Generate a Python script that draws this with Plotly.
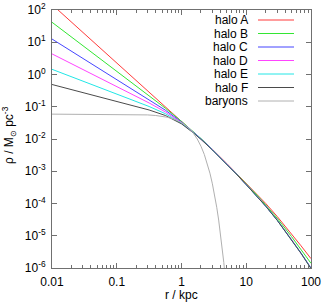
import plotly.graph_objects as go

# ---- data ----
r_halo = [0.01, 0.0316, 0.1, 0.178, 0.316, 0.562, 1, 1.5, 2, 3, 5, 7, 10, 15, 20, 30, 50, 70, 100]
rho_A = [148, 18.6, 2.34, 0.832, 0.295, 0.1047, 3.715e-2, 1.778e-2, 1.047e-2, 4.786e-3, 1.738e-3, 8.81e-4,
         4.266e-4, 1.862e-4, 1.0e-4, 3.98e-5, 1.148e-5, 4.90e-6, 1.95e-6]
rho_B = [41.7, 7.28, 1.27, 0.531, 0.2208, 9.04e-2, 3.532e-2, 1.734e-2, 1.030e-2, 4.737e-3, 1.714e-3, 8.55e-4,
         4.046e-4, 1.738e-4, 9.12e-5, 3.51e-5, 9.44e-6, 3.80e-6, 1.396e-6]
rho_C = [12.59, 3.0, 0.713, 0.3467, 0.1675, 7.85e-2, 3.365e-2, 1.690e-2, 1.016e-2, 4.688e-3, 1.687e-3, 8.30e-4,
         3.846e-4, 1.622e-4, 8.32e-5, 3.09e-5, 7.76e-6, 2.95e-6, 1.0e-6]
rho_D = [4.355, 1.365, 0.4266, 0.2382, 0.1312, 6.93e-2, 3.228e-2, 1.656e-2, 1.002e-2, 4.656e-3, 1.683e-3, 8.28e-4,
         3.837e-4, 1.618e-4, 8.28e-5, 3.076e-5, 7.71e-6, 2.924e-6, 9.86e-7]
rho_E = [1.449, 0.6026, 0.250, 0.161, 0.1019, 6.10e-2, 3.083e-2, 1.618e-2, 9.91e-3, 4.613e-3, 1.679e-3, 8.26e-4,
         3.828e-4, 1.614e-4, 8.26e-5, 3.06e-5, 7.64e-6, 2.89e-6, 9.72e-7]
rho_F = [0.49, 0.2692, 0.1479, 0.1096, 7.94e-2, 5.37e-2, 2.951e-2, 1.585e-2, 9.77e-3, 4.571e-3, 1.671e-3, 8.24e-4,
         3.82e-4, 1.607e-4, 8.22e-5, 3.04e-5, 7.59e-6, 2.86e-6, 9.6e-7]

r_bar = [0.01, 0.1, 0.2, 0.3, 0.4, 0.6, 0.8, 1.0, 1.25, 1.5, 1.75, 2.0, 2.25, 2.5, 2.75, 3.0, 3.25, 3.5, 3.75,
         4.0, 4.25, 4.5, 4.75]
rho_bar = [0.059, 0.0588, 0.0576, 0.0558, 0.0535, 0.0474, 0.0402, 0.0325, 0.02344, 0.01582, 0.01001, 5.94e-3,
           3.32e-3, 1.747e-3, 8.69e-4, 4.08e-4, 1.81e-4, 7.65e-5, 3.07e-5, 1.17e-5, 4.25e-6, 1.48e-6, 4.9e-7]

series_names = ["halo A", "halo B", "halo C", "halo D", "halo E", "halo F", "baryons"]
series_colors = ["#ff3a3a", "#33e633", "#4545ff", "#ff44ff", "#22e6e6", "#4a4a4a", "#b0b0b0"]

x_ticks = [0.01, 0.1, 1, 10, 100]
x_ticktext = ["0.01", "0.1", "1", "10", "100"]
x_minor = [m * d for d in (0.01, 0.1, 1, 10) for m in range(2, 10)]
y_ticks = [1e-6, 1e-5, 1e-4, 1e-3, 1e-2, 1e-1, 1e0, 1e1, 1e2]
y_ticktext = ["10<sup>-6</sup>", "10<sup>-5</sup>", "10<sup>-4</sup>", "10<sup>-3</sup>", "10<sup>-2</sup>",
              "10<sup>-1</sup>", "10<sup>0</sup>", "10<sup>1</sup>", "10<sup>2</sup>"]

FONT = "Liberation Sans, Arial, sans-serif"
AX = "#707070"

xs = [r_halo] * 6 + [r_bar]
ys = [rho_A, rho_B, rho_C, rho_D, rho_E, rho_F, rho_bar]

fig = go.Figure()
for name, col, x, y in zip(series_names, series_colors, xs, ys):
    fig.add_trace(go.Scatter(x=x, y=y, mode="lines", name=name,
                             line=dict(color=col, width=1), showlegend=False))

# gnuplot-style legend: right-aligned text followed by a line sample
W, H = 324, 304
ml, mr, mt, mb = 52, 13, 10, 36
pw, ph = W - ml - mr, H - mt - mb
def px_x(p):
    return (p - ml) / pw
def px_y(p):
    return (H - mb - p) / ph

leg_text_right = 250
leg_line = (258, 294)
leg_y0, leg_dy = 20, 13.5
for i, (name, col) in enumerate(zip(series_names, series_colors)):
    yy = px_y(leg_y0 + i * leg_dy)
    fig.add_annotation(x=px_x(leg_text_right), y=yy, xref="paper", yref="paper", text=name,
                       showarrow=False, xanchor="right", yanchor="middle",
                       font=dict(family=FONT, size=12, color="black"))
    fig.add_shape(type="line", xref="paper", yref="paper", x0=px_x(leg_line[0]), x1=px_x(leg_line[1]),
                  y0=yy, y1=yy, line=dict(color=col, width=1))

# axis titles
fig.add_annotation(x=0.5, y=px_y(295), xref="paper", yref="paper", text="r / kpc", showarrow=False,
                   xanchor="center", yanchor="middle", font=dict(family=FONT, size=12, color="black"))
fig.add_annotation(x=px_x(9), y=px_y(135), xref="paper", yref="paper",
                   text="ρ / M<sub>⊙</sub> pc<sup>-3</sup>", textangle=-90, showarrow=False,
                   xanchor="center", yanchor="middle", font=dict(family=FONT, size=12, color="black"))

fig.update_xaxes(type="log", range=[-2, 2], showline=True, linecolor=AX, linewidth=1, mirror="ticks",
                 ticks="inside", ticklen=5, tickcolor=AX, tickvals=x_ticks, ticktext=x_ticktext,
                 showgrid=False, zeroline=False, ticklabelstandoff=3,
                 minor=dict(ticks="inside", ticklen=3, tickcolor=AX, showgrid=False, tickvals=x_minor),
                 tickfont=dict(family=FONT, size=12, color="black"))
fig.update_yaxes(type="log", range=[-6, 2], showline=True, linecolor=AX, linewidth=1, mirror="ticks",
                 ticks="inside", ticklen=5, tickcolor=AX, tickvals=y_ticks, ticktext=y_ticktext,
                 showgrid=False, zeroline=False, ticklabelstandoff=3,
                 tickfont=dict(family=FONT, size=12, color="black"))

fig.update_layout(width=W, height=H, margin=dict(l=ml, r=mr, t=mt, b=mb, autoexpand=False),
                  plot_bgcolor="white", paper_bgcolor="white", showlegend=False)

fig.write_html("out.html", config={"displayModeBar": False, "staticPlot": True},
               post_script="document.body.style.margin='0';")
